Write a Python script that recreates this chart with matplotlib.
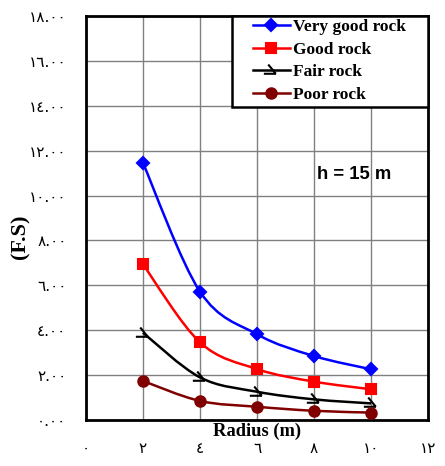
import numpy as np
import matplotlib
matplotlib.use('Agg')
import matplotlib.pyplot as plt
from matplotlib.path import Path
from matplotlib.patches import PathPatch, Rectangle

radius = [2, 4, 6, 8, 10]
very_good = [11.46, 5.72, 3.82, 2.85, 2.26]
good = [6.94, 3.46, 2.27, 1.71, 1.37]
fair = [3.89, 1.90, 1.26, 0.92, 0.74]
poor = [1.74, 0.85, 0.59, 0.41, 0.33]

x_ticks = [0, 2, 4, 6, 8, 10, 12]
x_labels = ['٠', '٢', '٤', '٦', '٨', '١٠', '١٢']
y_ticks = [0, 2, 4, 6, 8, 10, 12, 14, 16, 18]
y_labels = ['٠.٠٠', '٢.٠٠', '٤.٠٠', '٦.٠٠', '٨.٠٠',
            '١٠.٠٠', '١٢.٠٠', '١٤.٠٠', '١٦.٠٠', '١٨.٠٠']

# hook marker used for the fair rock series: bar with a slash into its end
hook = Path([(-0.7, -0.3), (0.4, -0.3), (-0.3, 0.55), (0.4, -0.3)],
            [Path.MOVETO, Path.LINETO, Path.MOVETO, Path.LINETO])


def smooth_path(xs, ys):
    # cubic bezier through the points (catmull-rom style handles)
    pts = np.column_stack([xs, ys]).astype(float)
    verts = [pts[0]]
    codes = [Path.MOVETO]
    n = len(pts)
    for i in range(n - 1):
        p0 = pts[max(i - 1, 0)]
        p1 = pts[i]
        p2 = pts[i + 1]
        p3 = pts[min(i + 2, n - 1)]
        c1 = p1 + (p2 - p0) / 6.0
        c2 = p2 - (p3 - p1) / 6.0
        verts += [c1, c2, p2]
        codes += [Path.CURVE4] * 3
    return Path(verts, codes)


fig = plt.figure(figsize=(4.45, 4.66), dpi=100)
ax = fig.add_axes([0.193, 0.0987, 0.769, 0.867])

series = [
    ('Very good rock', very_good, '#0000ff', 'D', 6.5),
    ('Good rock', good, '#ff0000', 's', 7),
    ('Fair rock', fair, 'black', hook, 11),
    ('Poor rock', poor, '#800000', 'o', 7.5),
]
for name, vals, col, mk, ms in series:
    ax.add_patch(PathPatch(smooth_path(radius, vals), fill=False,
                           edgecolor=col, lw=1.8, zorder=3))
    ax.plot(radius, vals, ls='none', marker=mk, ms=ms, color=col,
            mfc=col, mec=col, mew=1.5, zorder=4)
    # legend handle
    ax.plot([], [], color=col, lw=1.8, marker=mk, ms=ms, mfc=col,
            mec=col, mew=1.5, label=name)

ax.set_xlim(0, 12)
ax.set_ylim(0, 18)
ax.set_xticks(x_ticks)
ax.set_xticklabels(x_labels, fontsize=11)
ax.set_yticks(y_ticks)
ax.set_yticklabels(y_labels, fontsize=11)
ax.tick_params(axis='x', length=0, pad=15)
ax.tick_params(axis='y', length=0, pad=14)
ax.grid(True, color='#808080', lw=1.0)
ax.set_axisbelow(True)
for sp in ax.spines.values():
    sp.set_linewidth(2)
    sp.set_color('black')

ax.annotate('Radius (m)', xy=(0.5, 0), xycoords='axes fraction',
            xytext=(0, -2), textcoords='offset points', ha='center', va='top',
            fontsize=13.3, fontweight='bold', family='Liberation Serif')
fig.text(0.045, 0.491, '(F.S)', rotation=90, ha='center', va='center',
         fontsize=16, fontweight='bold', family='Liberation Serif')
ax.text(9.4, 10.95, 'h = 15 m', ha='center', va='center', fontsize=13.3,
        fontweight='bold', family='Liberation Sans')

# legend box with its own frame
ax.add_patch(Rectangle((0.427, 0.775), 0.573, 0.225, transform=ax.transAxes,
                       facecolor='white', edgecolor='black', lw=1.8,
                       clip_on=False, zorder=5))
leg = ax.legend(loc='upper left', bbox_to_anchor=(0.488, 0.993),
                prop={'family': 'Liberation Serif', 'weight': 'bold', 'size': 12.5},
                frameon=False, borderpad=0.0, labelspacing=0.375,
                handlelength=2.13, handletextpad=0.17, borderaxespad=0.0)
leg.set_zorder(6)

fig.savefig('out.png', dpi=100)
